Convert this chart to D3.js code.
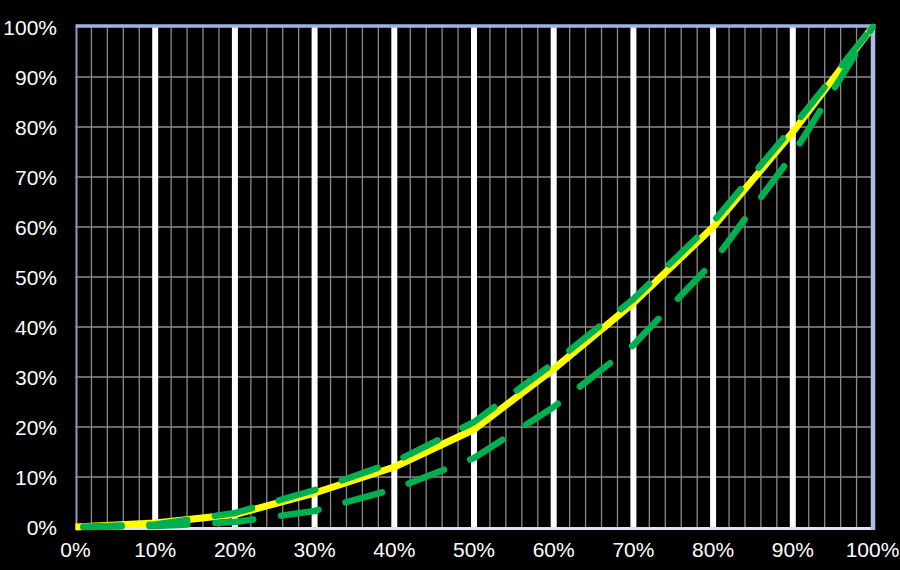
<!DOCTYPE html>
<html>
<head>
<meta charset="utf-8">
<script src="https://cdn.jsdelivr.net/npm/d3@7"></script>
<style>
  html, body { margin: 0; padding: 0; background: #000; }
  svg { display: block; }
  .tick_label { fill: #fff; font-family: "Liberation Sans", Arial, sans-serif; font-size: 21px; }
</style>
</head>
<body>
<svg width="900" height="570"></svg>
<script>
// share of population (x) vs share of total (y), in percent
var xValues = [0, 10, 20, 30, 40, 50, 60, 70, 80, 90, 100];
var yellowCurve = [0, 0.8, 2.5, 6.8, 12, 19.5, 31.6, 44.8, 60, 79, 100];
var upperGreen = [0, 0.5, 2.8, 7.4, 13, 21, 32.8, 45.6, 61, 80, 100];
var lowerGreen = [0, 0.2, 1, 3.2, 7.6, 13.8, 24, 36.4, 53, 74.5, 100];
var tickValues = [0, 10, 20, 30, 40, 50, 60, 70, 80, 90, 100];
var tickLabels = ["0%", "10%", "20%", "30%", "40%", "50%", "60%", "70%", "80%", "90%", "100%"];
var minorTicks = d3.range(0, 101, 2);

var svg = d3.select("svg"),
    width = +svg.attr("width"),
    height = +svg.attr("height");

svg.append("rect")
    .attr("width", width)
    .attr("height", height)
    .attr("fill", "#000");

var x = d3.scaleLinear().domain([0, 100]).range([75.5, 872.5]);
var y = d3.scaleLinear().domain([0, 100]).range([527, 27]);

// thin gray verticals every 2%
svg.append("g")
    .attr("class", "minor_grid")
    .selectAll("line")
    .data(minorTicks.filter(function(d) { return d % 10 != 0; }))
    .enter().append("line")
      .attr("x1", function(d) { return x(d); })
      .attr("x2", function(d) { return x(d); })
      .attr("y1", y(100))
      .attr("y2", y(0))
      .attr("stroke", "#8a8a8a")
      .attr("stroke-width", 1.3);

// horizontal gray grid every 10%
svg.append("g")
    .attr("class", "h_grid")
    .selectAll("line")
    .data(tickValues.slice(1, -1))
    .enter().append("line")
      .attr("x1", x(0))
      .attr("x2", x(100))
      .attr("y1", function(d) { return y(d); })
      .attr("y2", function(d) { return y(d); })
      .attr("stroke", "#8a8a8a")
      .attr("stroke-width", 1.3);

// thick white verticals every 10%
svg.append("g")
    .attr("class", "major_grid")
    .selectAll("line")
    .data(tickValues.slice(1, -1))
    .enter().append("line")
      .attr("x1", function(d) { return x(d); })
      .attr("x2", function(d) { return x(d); })
      .attr("y1", y(100))
      .attr("y2", y(0))
      .attr("stroke", "#fff")
      .attr("stroke-width", 6);

// plot frame
var frame = svg.append("g").attr("class", "frame");
frame.append("line")
    .attr("x1", x(0) + 1).attr("x2", x(0) + 1)
    .attr("y1", y(100)).attr("y2", y(0) + 1)
    .attr("stroke", "#8e9ab4").attr("stroke-width", 2);
frame.append("line")
    .attr("x1", x(0)).attr("x2", x(100) + 2)
    .attr("y1", y(0) + 1.5).attr("y2", y(0) + 1.5)
    .attr("stroke", "#dde2f2").attr("stroke-width", 3);
frame.append("line")
    .attr("x1", x(0)).attr("x2", x(100) + 3)
    .attr("y1", y(100) - 1).attr("y2", y(100) - 1)
    .attr("stroke", "#9db4e0").attr("stroke-width", 3.5);
frame.append("line")
    .attr("x1", x(100) + 0.5).attr("x2", x(100) + 0.5)
    .attr("y1", y(100) - 2.5).attr("y2", y(0) + 3)
    .attr("stroke", "#a9bfe6").attr("stroke-width", 4.5);

var lineGen = function(values) {
    return d3.line()
        .x(function(d, i) { return x(xValues[i]); })
        .y(function(d) { return y(d); })(values);
};

svg.append("path")
    .attr("d", lineGen(yellowCurve))
    .attr("fill", "none")
    .attr("stroke", "#ffff00")
    .attr("stroke-width", 7)
    .attr("stroke-linejoin", "round");

[upperGreen, lowerGreen].forEach(function(series) {
    svg.append("path")
        .attr("d", lineGen(series))
        .attr("fill", "none")
        .attr("stroke", "#00b050")
        .attr("stroke-width", 6.5)
        .attr("stroke-linecap", "round")
        .attr("stroke-linejoin", "round")
        .attr("stroke-dasharray", "38,28")
        .attr("stroke-dashoffset", -8);
});

// axis labels
svg.append("g")
    .attr("class", "y_labels")
    .selectAll("text")
    .data(tickValues)
    .enter().append("text")
      .attr("class", "tick_label")
      .attr("x", 57)
      .attr("y", function(d) { return y(d); })
      .attr("dy", "0.36em")
      .attr("text-anchor", "end")
      .text(function(d, i) { return tickLabels[i]; });

svg.append("g")
    .attr("class", "x_labels")
    .selectAll("text")
    .data(tickValues)
    .enter().append("text")
      .attr("class", "tick_label")
      .attr("x", function(d) { return x(d); })
      .attr("y", 557)
      .attr("text-anchor", "middle")
      .text(function(d, i) { return tickLabels[i]; });
</script>
</body>
</html>
